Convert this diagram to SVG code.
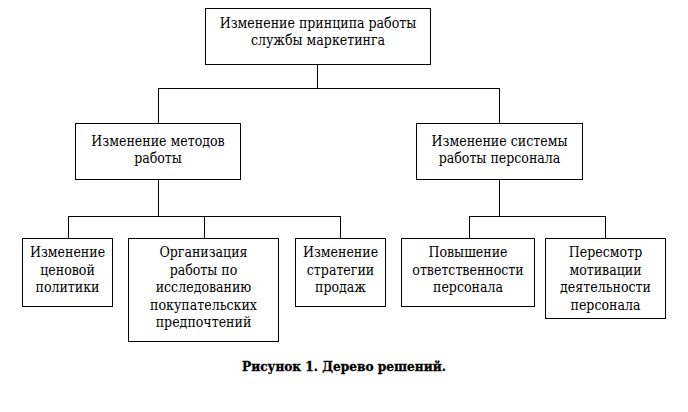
<svg xmlns="http://www.w3.org/2000/svg" width="688" height="412" viewBox="0 0 688 412">
<style>
rect.box{fill:#fff;stroke:#000;stroke-width:1}
.conn line{stroke:#000;stroke-width:1}
text{font-size:14px;fill:#000;text-anchor:middle;font-stretch:condensed}
.cap{font-weight:bold;font-size:13.5px;stroke:#000;stroke-width:0.3}
</style>
<rect width="688" height="412" fill="#fff"/>
<g class="conn">
<line x1="317.5" y1="64" x2="317.5" y2="88.5"/>
<line x1="158.5" y1="88.5" x2="499.5" y2="88.5"/>
<line x1="158.5" y1="88" x2="158.5" y2="123.5"/>
<line x1="499.5" y1="88" x2="499.5" y2="123.5"/>
<line x1="158.5" y1="179" x2="158.5" y2="216.5"/>
<line x1="68.5" y1="216.5" x2="340.5" y2="216.5"/>
<line x1="68.5" y1="216" x2="68.5" y2="238.5"/>
<line x1="204.5" y1="216" x2="204.5" y2="238.5"/>
<line x1="340.5" y1="216" x2="340.5" y2="238.5"/>
<line x1="499.5" y1="179" x2="499.5" y2="216.5"/>
<line x1="469.5" y1="216.5" x2="605.5" y2="216.5"/>
<line x1="469.5" y1="216" x2="469.5" y2="238.5"/>
<line x1="605.5" y1="216" x2="605.5" y2="238.5"/>
</g>
<g font-family="DejaVu Serif Condensed, DejaVu Serif, serif">
<g id="root">
<rect class="box" x="205.5" y="8.5" width="225" height="56"/>
<text x="318" y="27.5">Изменение принципа работы</text>
<text x="318" y="45">службы маркетинга</text>
</g>
<g id="methods">
<rect class="box" x="75.5" y="123.5" width="165" height="56"/>
<text x="158" y="145.5">Изменение методов</text>
<text x="158" y="163">работы</text>
</g>
<g id="staff">
<rect class="box" x="416.5" y="123.5" width="166" height="56"/>
<text x="499.5" y="145.5">Изменение системы</text>
<text x="499.5" y="163">работы персонала</text>
</g>
<g id="price">
<rect class="box" x="22.5" y="238.5" width="90" height="68"/>
<text x="67.5" y="257">Изменение</text>
<text x="67.5" y="274.5">ценовой</text>
<text x="67.5" y="292">политики</text>
</g>
<g id="research">
<rect class="box" x="128.5" y="238.5" width="150" height="103"/>
<text x="203.5" y="257">Организация</text>
<text x="203.5" y="274.5">работы по</text>
<text x="203.5" y="292">исследованию</text>
<text x="203.5" y="309.5">покупательских</text>
<text x="203.5" y="327">предпочтений</text>
</g>
<g id="sales">
<rect class="box" x="295.5" y="238.5" width="90" height="68"/>
<text x="340.5" y="257">Изменение</text>
<text x="340.5" y="274.5">стратегии</text>
<text x="340.5" y="292">продаж</text>
</g>
<g id="responsibility">
<rect class="box" x="401.5" y="238.5" width="133" height="68"/>
<text x="468" y="257">Повышение</text>
<text x="468" y="274.5">ответственности</text>
<text x="468" y="292">персонала</text>
</g>
<g id="motivation">
<rect class="box" x="545.5" y="238.5" width="120" height="80"/>
<text x="605.5" y="257">Пересмотр</text>
<text x="605.5" y="274.5">мотивации</text>
<text x="605.5" y="292">деятельности</text>
<text x="605.5" y="309.5">персонала</text>
</g>
<text class="cap" x="344" y="371">Рисунок 1. Дерево решений.</text>
</g>
</svg>
